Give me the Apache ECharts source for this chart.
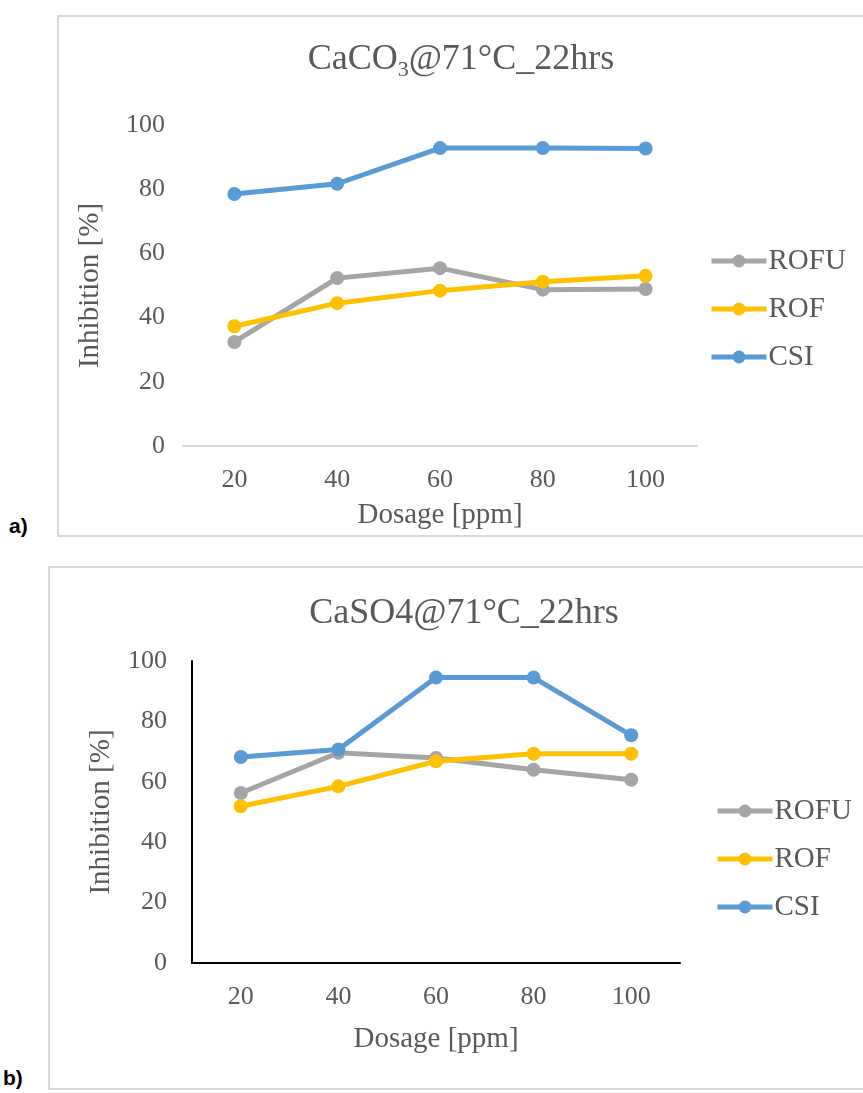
<!DOCTYPE html>
<html>
<head>
<meta charset="utf-8">
<script src="https://cdn.jsdelivr.net/npm/echarts@6/dist/echarts.min.js"></script>
<style>
  html, body { margin: 0; padding: 0; background: #fff; overflow: hidden; }
  body { width: 863px; height: 1093px; position: relative; }
  .box { position: absolute; border: 2px solid #d9d9d9; box-sizing: border-box; background: #fff; }
  .tag { position: absolute; font-family: "Liberation Sans", Arial, sans-serif; font-weight: bold; font-size: 21px; color: #000; }
</style>
</head>
<body>
<div id="chartA" class="box" style="left:57px; top:15px; width:830px; height:522px;"></div>
<div id="chartB" class="box" style="left:48px; top:566px; width:840px; height:524px;"></div>
<div class="tag" style="left:9px; top:514px;">a)</div>
<div class="tag" style="left:3px; top:1066px;">b)</div>
<script>
var dosage = ['20', '40', '60', '80', '100'];
var seriesNames = ['ROFU', 'ROF', 'CSI'];
var colors = ['#a5a5a5', '#ffc000', '#5b9bd5'];

// CaCO3 @ 71°C, 22 hrs
var caco3ROFU = [32.4, 52.3, 55.4, 48.7, 48.9];
var caco3ROF = [37.3, 44.5, 48.4, 51.2, 53.0];
var caco3CSI = [78.5, 81.7, 92.8, 92.8, 92.7];

// CaSO4 @ 71°C, 22 hrs
var caso4ROFU = [56.3, 69.6, 67.9, 64.0, 60.7];
var caso4ROF = [51.9, 58.5, 66.8, 69.3, 69.3];
var caso4CSI = [68.2, 70.7, 94.5, 94.5, 75.4];

var yTicks = [0, 20, 40, 60, 80, 100];

var font = '"Liberation Serif", "Times New Roman", serif';
var grey = '#595959';

function makeOption(cfg) {
  var series = [cfg.rofu, cfg.rof, cfg.csi].map(function (vals, i) {
    return {
      name: seriesNames[i],
      type: 'line',
      data: vals,
      symbol: 'circle',
      symbolSize: 14,
      color: colors[i],
      lineStyle: { width: 5, color: colors[i] },
      itemStyle: { color: colors[i] },
      animation: false
    };
  });
  return {
    animation: false,
    title: {
      text: cfg.title,
      left: cfg.titleX,
      top: cfg.titleY,
      textAlign: 'center',
      textStyle: {
        fontFamily: font, fontSize: 36, fontWeight: 'normal', color: grey,
        rich: {
          n: { fontFamily: font, fontSize: 36, color: grey, lineHeight: 42, verticalAlign: 'middle' },
          s: { fontFamily: font, fontSize: 22, color: grey, lineHeight: 22, verticalAlign: 'bottom' }
        }
      }
    },
    legend: {
      orient: 'vertical',
      left: cfg.legendX,
      top: cfg.legendY,
      itemWidth: 55,
      itemHeight: 16,
      itemGap: 18,
      data: seriesNames,
      lineStyle: { width: 5 },
      textStyle: { fontFamily: font, fontSize: 29, lineHeight: 30, color: grey, padding: [0, 0, 0, -3] }
    },
    grid: { left: cfg.gridLeft, top: cfg.gridTop, width: cfg.gridW, height: cfg.gridH },
    xAxis: {
      type: 'category',
      data: dosage,
      boundaryGap: true,
      name: 'Dosage [ppm]',
      nameLocation: 'middle',
      nameGap: cfg.xNameGap,
      nameTextStyle: { fontFamily: font, fontSize: 29, color: grey },
      axisLine: { show: true, lineStyle: { color: cfg.axisColor, width: cfg.axisWidth } },
      axisTick: { show: false },
      axisLabel: { fontFamily: font, fontSize: 26, color: grey, margin: 21 },
      splitLine: { show: false }
    },
    yAxis: {
      type: 'value',
      min: yTicks[0],
      max: yTicks[yTicks.length - 1],
      interval: 20,
      name: 'Inhibition [%]',
      nameLocation: 'middle',
      nameGap: cfg.yNameGap,
      nameTextStyle: { fontFamily: font, fontSize: 29, color: grey },
      axisLine: { show: cfg.showYLine, lineStyle: { color: '#000', width: 2 } },
      axisTick: { show: false },
      axisLabel: { fontFamily: font, fontSize: 26, color: grey, margin: cfg.yLabelMargin },
      splitLine: { show: false }
    },
    series: series
  };
}

var chartA = echarts.init(document.getElementById('chartA'));
chartA.setOption(makeOption({
  title: '{n|CaCO}{s|3}{n|@71°C_22hrs}',
  titleX: 397, titleY: 17,
  legendX: 645, legendY: 224,
  gridLeft: 124, gridTop: 108, gridW: 514, gridH: 323,
  xNameGap: 55, yNameGap: 78, yLabelMargin: 18,
  axisColor: '#d9d9d9', axisWidth: 2, showYLine: false,
  rofu: caco3ROFU, rof: caco3ROF, csi: caco3CSI
}));

var chartB = echarts.init(document.getElementById('chartB'));
chartB.setOption(makeOption({
  title: '{n|CaSO4@71°C_22hrs}',
  titleX: 409, titleY: 20,
  legendX: 660, legendY: 223,
  gridLeft: 142, gridTop: 93, gridW: 488, gridH: 302,
  xNameGap: 62, yNameGap: 76, yLabelMargin: 25,
  axisColor: '#000', axisWidth: 2, showYLine: true,
  rofu: caso4ROFU, rof: caso4ROF, csi: caso4CSI
}));
</script>
</body>
</html>
